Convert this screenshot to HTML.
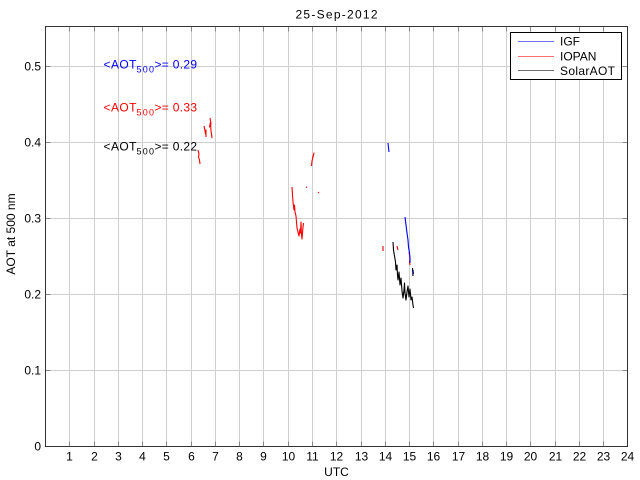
<!DOCTYPE html>
<html>
<head>
<meta charset="utf-8">
<style>
html,body{margin:0;padding:0;background:#fff;}
svg{display:block;}
text{font-family:"Liberation Sans","DejaVu Sans",sans-serif;}
</style>
</head>
<body>
<svg width="640" height="480" viewBox="0 0 640 480" xmlns="http://www.w3.org/2000/svg">
<rect x="0" y="0" width="640" height="480" fill="#fff"/>
<!-- grid verticals -->
<g stroke="#cfcfcf" stroke-width="1" fill="none">
<path d="M69.5 26.5V446.5M94.5 26.5V446.5M118.5 26.5V446.5M142.5 26.5V446.5M166.5 26.5V446.5M191.5 26.5V446.5M215.5 26.5V446.5M239.5 26.5V446.5M263.5 26.5V446.5M288.5 26.5V446.5M312.5 26.5V446.5M336.5 26.5V446.5M361.5 26.5V446.5M385.5 26.5V446.5M409.5 26.5V446.5M433.5 26.5V446.5M458.5 26.5V446.5M482.5 26.5V446.5M506.5 26.5V446.5M530.5 26.5V446.5M555.5 26.5V446.5M579.5 26.5V446.5M603.5 26.5V446.5"/>
<path d="M45.5 370.5H627.5M45.5 294.5H627.5M45.5 218.5H627.5M45.5 142.5H627.5M45.5 66.5H627.5"/>
</g>
<!-- ticks -->
<g stroke="#8a8a8a" stroke-width="1" fill="none">
<path d="M69.5 446.5v-5M94.5 446.5v-5M118.5 446.5v-5M142.5 446.5v-5M166.5 446.5v-5M191.5 446.5v-5M215.5 446.5v-5M239.5 446.5v-5M263.5 446.5v-5M288.5 446.5v-5M312.5 446.5v-5M336.5 446.5v-5M361.5 446.5v-5M385.5 446.5v-5M409.5 446.5v-5M433.5 446.5v-5M458.5 446.5v-5M482.5 446.5v-5M506.5 446.5v-5M530.5 446.5v-5M555.5 446.5v-5M579.5 446.5v-5M603.5 446.5v-5"/>
<path d="M69.5 26.5v5M94.5 26.5v5M118.5 26.5v5M142.5 26.5v5M166.5 26.5v5M191.5 26.5v5M215.5 26.5v5M239.5 26.5v5M263.5 26.5v5M288.5 26.5v5M312.5 26.5v5M336.5 26.5v5M361.5 26.5v5M385.5 26.5v5M409.5 26.5v5M433.5 26.5v5M458.5 26.5v5M482.5 26.5v5M506.5 26.5v5M530.5 26.5v5M555.5 26.5v5M579.5 26.5v5M603.5 26.5v5"/>
<path d="M45.5 370.5h5M45.5 294.5h5M45.5 218.5h5M45.5 142.5h5M45.5 66.5h5"/>
<path d="M627.5 370.5h-5M627.5 294.5h-5M627.5 218.5h-5M627.5 142.5h-5M627.5 66.5h-5"/>
</g>
<!-- axes box -->
<rect x="45.5" y="26.5" width="582" height="420" fill="none" stroke="#333" stroke-width="1"/>

<!-- data: IOPAN red -->
<g fill="none" stroke="#ff0000" stroke-width="1.1" stroke-linejoin="round">
<polyline points="198,150 199,154 198.5,157 199.5,160 200,164"/>
<polyline points="204,126 205,131 204.5,128 205.5,134 206,130 206,137"/>
<polyline points="210,118 211,124 209.5,127 210.5,122 211,131 211.5,134 212,138"/>
<polyline points="311.5,166 312,161 313,157 314,153 312.5,158"/>
<polyline points="292,187 292.5,195 293,202 294,210 294.5,205 295,212 296,216 296.5,222 297,228 298,232 299,236 300,229 300.5,233 301,222 301.5,235 302,239 302.5,233 303,227 303.5,223"/>
<polyline points="306,187 307,187.5"/>
<polyline points="318,192 319,193"/>
<polyline points="383,246 383,251"/>
<polyline points="397,246 398,250"/>
<polyline points="409,252 410,258 409.5,262 410,265"/>
</g>
<!-- IGF blue -->
<g fill="none" stroke="#0000ff" stroke-width="1.1" stroke-linejoin="round">
<polyline points="388,143 389,152"/>
<polyline points="405,217 406,225 407,233 408,240 408.5,247 409.5,253 410,258 410,263"/>
<polyline points="413,270 413.5,274"/>
</g>
<!-- SolarAOT black -->
<g fill="none" stroke="#000" stroke-width="1.1" stroke-linejoin="round">
<polyline points="393,242 393.5,250 394.5,256 395.5,262 396,270 397,265 397.5,275 398,280 399,272 400,285 401,278 402,291 403,298 404,290 404.5,283 405,293 406,300 407,292 408,286 409,297 410,289 411,300 412,297 413,305 413.5,308"/>
<polyline points="412.5,268 413,276"/>
</g>

<!-- y tick labels -->
<g font-size="12" fill="#000" text-anchor="end">
<text x="41" y="450.5">0</text>
<text x="41" y="374.5">0.1</text>
<text x="41" y="298.5">0.2</text>
<text x="41" y="222.5">0.3</text>
<text x="41" y="146.5">0.4</text>
<text x="41" y="70.5">0.5</text>
</g>
<!-- x tick labels -->
<g font-size="12" fill="#000" text-anchor="middle">
<text x="69.5" y="460.5">1</text>
<text x="94.5" y="460.5">2</text>
<text x="118.5" y="460.5">3</text>
<text x="142.5" y="460.5">4</text>
<text x="166.5" y="460.5">5</text>
<text x="191.5" y="460.5">6</text>
<text x="215.5" y="460.5">7</text>
<text x="239.5" y="460.5">8</text>
<text x="263.5" y="460.5">9</text>
<text x="288.5" y="460.5">10</text>
<text x="312.5" y="460.5">11</text>
<text x="336.5" y="460.5">12</text>
<text x="361.5" y="460.5">13</text>
<text x="385.5" y="460.5">14</text>
<text x="409.5" y="460.5">15</text>
<text x="433.5" y="460.5">16</text>
<text x="458.5" y="460.5">17</text>
<text x="482.5" y="460.5">18</text>
<text x="506.5" y="460.5">19</text>
<text x="530.5" y="460.5">20</text>
<text x="555.5" y="460.5">21</text>
<text x="579.5" y="460.5">22</text>
<text x="603.5" y="460.5">23</text>
<text x="627.5" y="460.5">24</text>
</g>
<!-- axis labels & title -->
<text x="336.5" y="476" font-size="12" text-anchor="middle">UTC</text>
<text x="336.5" y="18.3" font-size="12" text-anchor="middle" textLength="82" lengthAdjust="spacing">25-Sep-2012</text>
<text transform="translate(15,234) rotate(-90)" font-size="12" text-anchor="middle">AOT at 500 nm</text>

<!-- annotations -->
<g font-size="12">
<text fill="#0000ff"><tspan x="103.5" y="68.7" textLength="33" lengthAdjust="spacing">&lt;AOT</tspan><tspan x="136.5" y="72.7" font-size="9" textLength="17.5" lengthAdjust="spacing">500</tspan><tspan x="154.5" y="68.7" textLength="42.5" lengthAdjust="spacing">&gt;= 0.29</tspan></text>
<text fill="#ff0000"><tspan x="103.5" y="111.5" textLength="33" lengthAdjust="spacing">&lt;AOT</tspan><tspan x="136.5" y="115.5" font-size="9" textLength="17.5" lengthAdjust="spacing">500</tspan><tspan x="154.5" y="111.5" textLength="42.5" lengthAdjust="spacing">&gt;= 0.33</tspan></text>
<text fill="#000"><tspan x="103.5" y="150.5" textLength="33" lengthAdjust="spacing">&lt;AOT</tspan><tspan x="136.5" y="154.5" font-size="9" textLength="17.5" lengthAdjust="spacing">500</tspan><tspan x="154.5" y="150.5" textLength="42.5" lengthAdjust="spacing">&gt;= 0.22</tspan></text>
</g>

<!-- legend -->
<rect x="510.5" y="32.5" width="111" height="47" fill="#fff" stroke="#000" stroke-width="1"/>
<g stroke-width="1">
<line x1="518" y1="41.5" x2="554" y2="41.5" stroke="#6f6fff"/>
<line x1="518" y1="56.5" x2="554" y2="56.5" stroke="#ff6f6f"/>
<line x1="518" y1="70.5" x2="554" y2="70.5" stroke="#6f6f6f"/>
</g>
<g font-size="12" fill="#000">
<text x="560" y="45.7">IGF</text>
<text x="560" y="60.7">IOPAN</text>
<text x="560" y="75" textLength="55" lengthAdjust="spacing">SolarAOT</text>
</g>
</svg>
</body>
</html>
